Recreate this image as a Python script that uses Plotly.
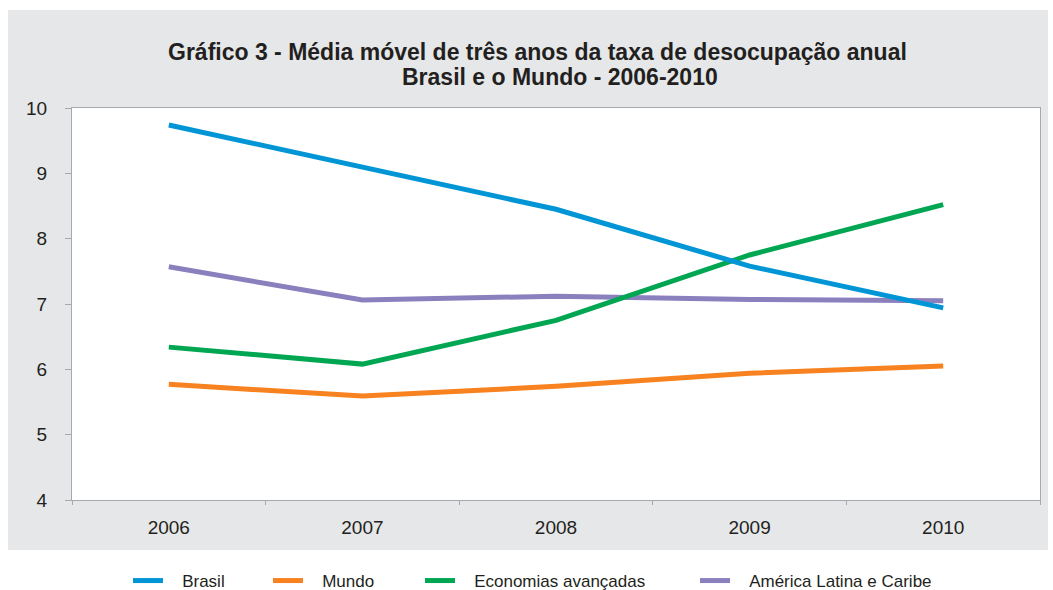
import plotly.graph_objects as go

years = ["2006", "2007", "2008", "2009", "2010"]
brasil = [9.74, 9.10, 8.45, 7.58, 6.94]
mundo = [5.77, 5.59, 5.74, 5.94, 6.05]
economias = [6.34, 6.08, 6.75, 7.75, 8.52]
america = [7.57, 7.06, 7.12, 7.07, 7.05]

series = [
    ("Brasil", brasil, "#0096D6", "legend", 133),
    ("Mundo", mundo, "#F7821F", "legend2", 273),
    ("Economias avançadas", economias, "#00A651", "legend3", 425),
    ("América Latina e Caribe", america, "#8B80BE", "legend4", 700),
]

W, H = 1053, 590
L, R, T, B = 72, 13, 108, 90
pw = W - L - R
ph = H - T - B

def px_x(p):
    return (p - L) / pw

def px_y(p):
    return (H - B - p) / ph

pad = "\u00a0" * 3

fig = go.Figure()
order = [3, 1, 2, 0]
for i in order:
    name, vals, color, lg, _ = series[i]
    fig.add_trace(go.Scatter(x=years, y=vals, name=pad + name, mode="lines",
                             line=dict(color=color, width=5), legend=lg,
                             hovertemplate=name + ": %{y:.2f}<extra></extra>"))

font_fam = "Liberation Sans, Arial, sans-serif"
txt = "#231F20"

legends = {}
for name, vals, color, lg, xpos in series:
    legends[lg] = dict(orientation="h", x=px_x(xpos - 5), xanchor="left",
                       y=px_y(581), yanchor="middle", bgcolor="rgba(0,0,0,0)",
                       font=dict(family=font_fam, size=17, color=txt),
                       itemwidth=30, borderwidth=0, tracegroupgap=0)

fig.update_layout(
    width=W, height=H,
    margin=dict(l=L, r=R, t=T, b=B, pad=0, autoexpand=False),
    paper_bgcolor="white", plot_bgcolor="white",
    font=dict(family=font_fam, color=txt),
    showlegend=True,
    shapes=[
        dict(type="rect", xref="paper", yref="paper",
             x0=px_x(8), x1=px_x(1048), y0=px_y(550), y1=px_y(10),
             fillcolor="#E6E7E8", line=dict(width=0), layer="below"),
        dict(type="rect", xref="paper", yref="paper",
             x0=0, x1=1, y0=0, y1=1,
             fillcolor="white", line=dict(width=0), layer="below"),
    ],
    annotations=[
        dict(text="<b>Gráfico 3 - Média móvel de três anos da taxa de desocupação anual</b>",
             xref="paper", yref="paper", x=px_x(537), y=px_y(52), xanchor="center", yanchor="middle",
             showarrow=False, font=dict(family=font_fam, size=23, color=txt)),
        dict(text="<b>Brasil e o Mundo - 2006-2010</b>",
             xref="paper", yref="paper", x=px_x(560), y=px_y(77), xanchor="center", yanchor="middle",
             showarrow=False, font=dict(family=font_fam, size=23, color=txt)),
    ],
    **legends,
)

fig.update_xaxes(type="category", tickson="boundaries", ticks="outside", ticklen=4,
                 tickcolor="#A7A9AC", showline=True, linecolor="#A7A9AC", linewidth=1,
                 mirror=True, showgrid=False, range=[-0.5, 4.5],
                 tickfont=dict(family=font_fam, size=19, color=txt), ticklabelstandoff=10)
fig.update_yaxes(range=[4, 10], dtick=1, ticks="outside", ticklen=6, tickcolor="#A7A9AC",
                 showline=True, linecolor="#A7A9AC", linewidth=1, mirror=True,
                 showgrid=False, zeroline=False,
                 tickfont=dict(family=font_fam, size=19, color=txt), ticklabelstandoff=14)

fig.write_html(
    "out.html",
    config={"displayModeBar": False},
    post_script="document.body.style.margin='0';document.body.style.padding='0';"
                "document.documentElement.style.overflow='hidden';document.body.style.overflow='hidden';",
)
